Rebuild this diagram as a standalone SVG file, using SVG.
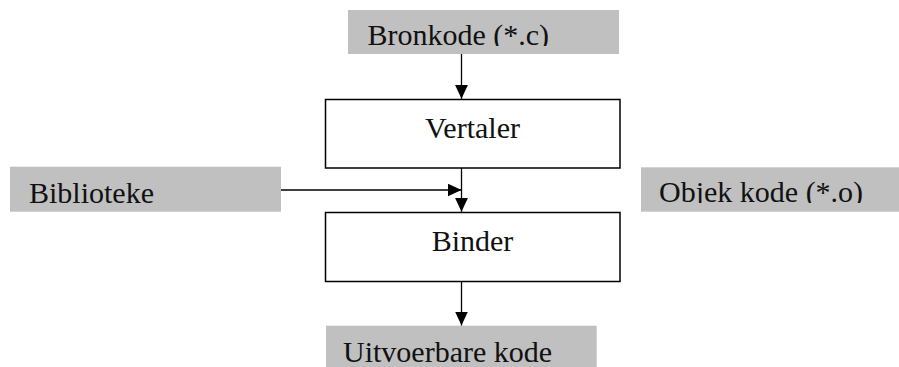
<svg xmlns="http://www.w3.org/2000/svg" width="899" height="367" viewBox="0 0 899 367">
  <style>
    .gray { fill: #c0c0c0; stroke: none; }
    .box { fill: #ffffff; stroke: #000000; stroke-width: 1.5; }
    .t { font-family: "Liberation Serif", "Times New Roman", serif; font-size: 30px; fill: #111111; }
    .c { text-anchor: middle; }
    .conn { stroke: #000000; stroke-width: 1.3; fill: none; marker-end: url(#arrow); }
  </style>
  <defs>
    <marker id="arrow" markerUnits="userSpaceOnUse" markerWidth="14" markerHeight="13" refX="14" refY="6.5" orient="auto">
      <path d="M0,0 L14,6.5 L0,13 Z" fill="#000000"/>
    </marker>
    <clipPath id="clipBron"><rect x="348" y="10" width="271" height="36"/></clipPath>
    <clipPath id="clipObj"><rect x="641" y="167" width="258" height="36"/></clipPath>
  </defs>
  <rect width="899" height="367" fill="#ffffff"/>

  <g id="bronkode">
    <rect class="gray" x="348" y="10" width="271" height="44"/>
    <text class="t" x="367.5" y="45" clip-path="url(#clipBron)">Bronkode (*.c)</text>
  </g>

  <g id="vertaler">
    <rect class="box" x="325.5" y="99.5" width="294.5" height="68.5"/>
    <text class="t c" x="472.5" y="137.5">Vertaler</text>
  </g>

  <g id="biblioteke">
    <rect class="gray" x="10" y="166.7" width="271" height="45"/>
    <text class="t" x="29" y="203">Biblioteke</text>
  </g>

  <g id="objek">
    <rect class="gray" x="641" y="167.3" width="258" height="44.4"/>
    <text class="t" x="659" y="201.5" clip-path="url(#clipObj)">Objek kode (*.o)</text>
  </g>

  <g id="binder">
    <rect class="box" x="325.5" y="212.5" width="294.5" height="69"/>
    <text class="t c" x="472.5" y="250.5">Binder</text>
  </g>

  <g id="uitvoerbare">
    <rect class="gray" x="326" y="325.7" width="270.7" height="41.3"/>
    <text class="t" x="343" y="361.5">Uitvoerbare kode</text>
  </g>

  <g id="connectors">
    <line class="conn" x1="461.5" y1="54" x2="461.5" y2="98.8"/>
    <line class="conn" x1="461.5" y1="168" x2="461.5" y2="211.8"/>
    <line class="conn" x1="281" y1="190" x2="461.5" y2="190"/>
    <line class="conn" x1="461.5" y1="281.5" x2="461.5" y2="325.5"/>
  </g>
</svg>
